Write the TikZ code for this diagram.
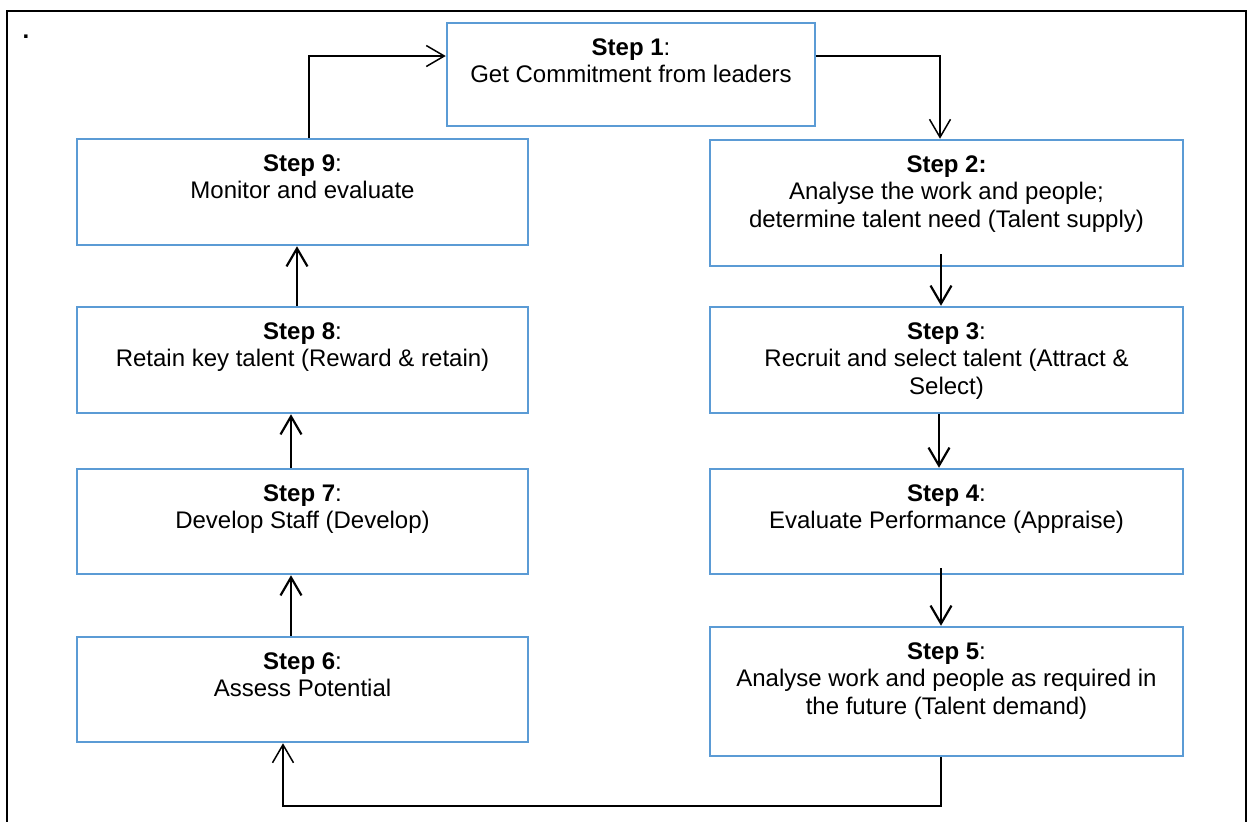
\documentclass[tikz,border=0pt]{standalone}
\usepackage{fontspec}
\setmainfont{Liberation Sans}
\usetikzlibrary{arrows.meta}
\definecolor{boxblue}{HTML}{5B9BD5}
\begin{document}
\begin{tikzpicture}[x=0.5pt,y=-0.5pt,
  stepbox/.style 2 args={draw=boxblue, line width=1.25pt, inner sep=0pt,
    minimum width=#1, minimum height=#2},
  steptext/.style={inner sep=0pt, align=center,
    font=\fontsize{12}{13.8}\selectfont},
  tip/.style={-{Straight Barb[length=9pt,width=10.5pt]}},
  flow/.style={tip, line width=1.1pt},
  elbow/.style={line width=0.75pt}]
\useasboundingbox (0,0) rectangle (1248,821);

% outer frame
\draw[line width=1.1pt] (7,835) -- (7,10.7) -- (1245.7,10.7) -- (1245.7,835);
\node[inner sep=0pt, font=\bfseries\fontsize{12}{13.8}\selectfont] (dot) at (26,37) {.};

% step boxes: left column, right column and the top box
\node[stepbox={184pt}{51.5pt}]   (s1) at (631,74.5) {};
\node[stepbox={236.5pt}{63pt}]   (s2) at (946.5,203) {};
\node[stepbox={236.5pt}{53pt}]   (s3) at (946.5,360) {};
\node[stepbox={236.5pt}{52.5pt}] (s4) at (946.5,521.5) {};
\node[stepbox={236.5pt}{64.5pt}] (s5) at (946.5,691.5) {};
\node[stepbox={225.5pt}{52.5pt}] (s6) at (302.5,689.5) {};
\node[stepbox={225.5pt}{52.5pt}] (s7) at (302.5,521.5) {};
\node[stepbox={225.5pt}{53pt}]   (s8) at (302.5,360) {};
\node[stepbox={225.5pt}{53pt}]   (s9) at (302.5,192) {};

% box texts, hung from the top edge of each box
\node[steptext, anchor=north] (t1) at ([yshift=-6.85pt]s1.north)
  {\strut\textbf{Step 1}:\\Get Commitment from leaders};
\node[steptext, anchor=north] (t2) at ([yshift=-6.85pt]s2.north)
  {\strut\textbf{Step 2:}\\Analyse the work and people;\\determine talent need (Talent supply)};
\node[steptext, anchor=north] (t3) at ([yshift=-6.85pt]s3.north)
  {\strut\textbf{Step 3}:\\Recruit and select talent (Attract \&\\Select)};
\node[steptext, anchor=north] (t4) at ([yshift=-6.85pt]s4.north)
  {\strut\textbf{Step 4}:\\Evaluate Performance (Appraise)};
\node[steptext, anchor=north] (t5) at ([yshift=-6.85pt]s5.north)
  {\strut\textbf{Step 5}:\\Analyse work and people as required in\\the future (Talent demand)};
\node[steptext, anchor=north] (t6) at ([yshift=-6.85pt]s6.north)
  {\strut\textbf{Step 6}:\\Assess Potential};
\node[steptext, anchor=north] (t7) at ([yshift=-6.85pt]s7.north)
  {\strut\textbf{Step 7}:\\Develop Staff (Develop)};
\node[steptext, anchor=north] (t8) at ([yshift=-6.85pt]s8.north)
  {\strut\textbf{Step 8}:\\Retain key talent (Reward \& retain)};
\node[steptext, anchor=north] (t9) at ([yshift=-6.85pt]s9.north)
  {\strut\textbf{Step 9}:\\Monitor and evaluate};

% routing points
\coordinate (c91) at (309,56);
\coordinate (c12) at (940,56);
\coordinate (c56) at (941,806);
\coordinate (c66) at (283,806);
\coordinate (xr) at (941,0);
\coordinate (xr3) at (939,0);
\coordinate (xl) at (291,0);
\coordinate (xl8) at (297,0);

% elbow connectors
\draw[elbow, tip] (s9.north -| c91) -- (c91) -- (c91 -| s1.west);
\draw[elbow, tip] (c12 -| s1.east) -- (c12) -- (s2.north -| c12);
\draw[elbow, tip] (s5.south -| c56) -- (c56) -- (c66) -- (s6.south -| c66);

% straight connectors, right column downwards
\draw[flow, shorten <=-6.5pt] (s2.south -| xr) -- (s3.north -| xr);
\draw[flow] (s3.south -| xr3) -- (s4.north -| xr3);
\draw[flow, shorten <=-3.5pt] (s4.south -| xr) -- (s5.north -| xr);

% straight connectors, left column upwards
\draw[flow] (s6.north -| xl) -- (s7.south -| xl);
\draw[flow] (s7.north -| xl) -- (s8.south -| xl);
\draw[flow] (s8.north -| xl8) -- (s9.south -| xl8);
\end{tikzpicture}
\end{document}
